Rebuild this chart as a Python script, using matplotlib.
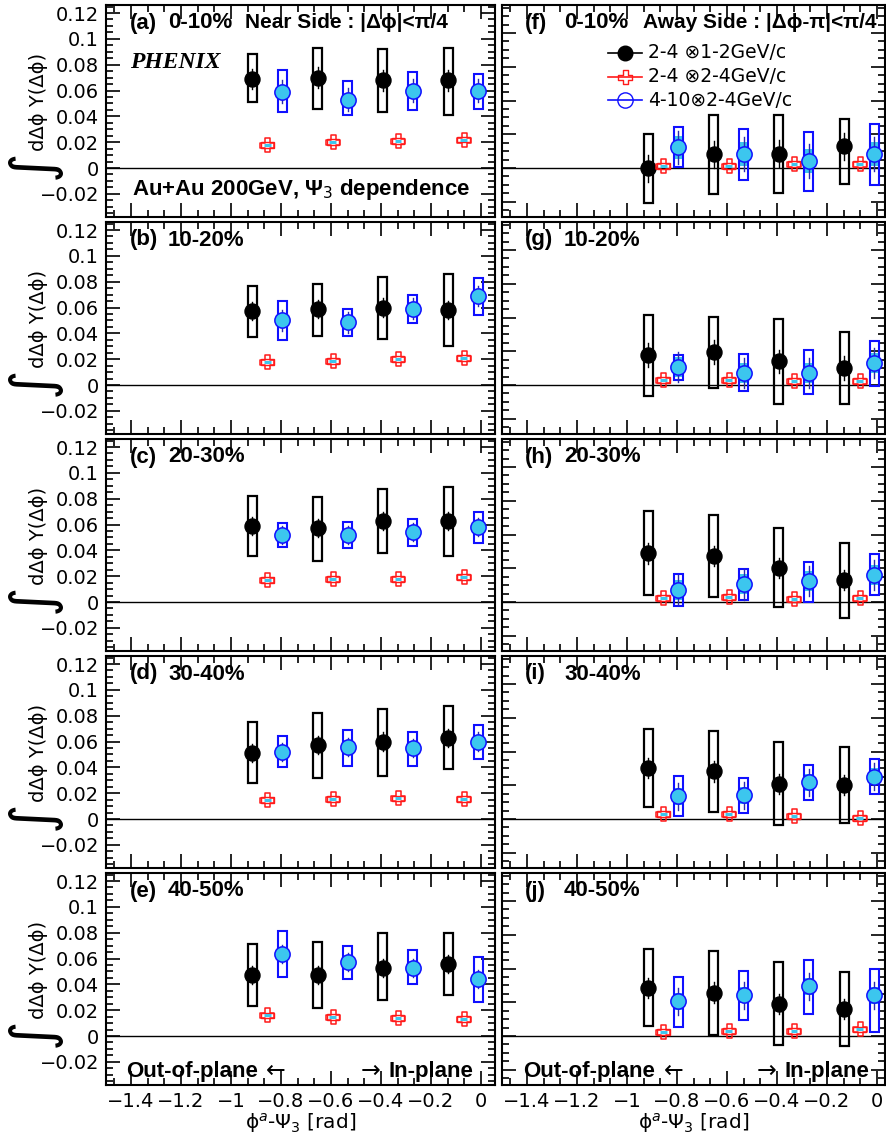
"""
Psi_3 dependence of near- and away-side jet-like yields (PHENIX, Au+Au 200 GeV).
Left column: near side, right column: away side; rows are centrality bins.
"""
import matplotlib
matplotlib.use("Agg")
import matplotlib.pyplot as plt
from matplotlib.patches import Rectangle
from matplotlib.path import Path
from matplotlib.lines import Line2D
from matplotlib.ticker import MultipleLocator, AutoMinorLocator, FuncFormatter

plt.rcParams["font.family"] = ["DejaVu Sans"]
plt.rcParams["mathtext.fontset"] = "dejavusans"

# ---------------------------------------------------------------- data
CENTRALITY = ["0-10%", "10-20%", "20-30%", "30-40%", "40-50%"]
LETTERS_NEAR = ["(a)", "(b)", "(c)", "(d)", "(e)"]
LETTERS_AWAY = ["(f)", "(g)", "(h)", "(i)", "(j)"]

# bin centres of phi^a - Psi_3 (black points); other series are shifted for clarity
PHI_BINS = [-0.916, -0.654, -0.393, -0.131]

# near side, 2-4 x 1-2 GeV/c
NEAR_LO_Y = [[0.069, 0.070, 0.068, 0.068],
             [0.057, 0.059, 0.060, 0.058],
             [0.059, 0.057, 0.063, 0.063],
             [0.051, 0.057, 0.060, 0.063],
             [0.047, 0.047, 0.053, 0.056]]
NEAR_LO_SYS_HI = [[0.088, 0.093, 0.092, 0.093],
                  [0.077, 0.078, 0.084, 0.086],
                  [0.082, 0.081, 0.0875, 0.089],
                  [0.075, 0.082, 0.085, 0.0875],
                  [0.0715, 0.073, 0.0795, 0.080]]
NEAR_LO_SYS_LO = [[0.051, 0.046, 0.043, 0.041],
                  [0.037, 0.038, 0.036, 0.030],
                  [0.036, 0.032, 0.038, 0.036],
                  [0.0276, 0.032, 0.0335, 0.0384],
                  [0.023, 0.022, 0.0276, 0.032]]
NEAR_LO_STAT = [0.008, 0.007, 0.007, 0.007, 0.007]

# near side, 2-4 x 2-4 GeV/c
NEAR_MID_Y = [[0.018, 0.020, 0.021, 0.022],
              [0.018, 0.0186, 0.020, 0.021],
              [0.017, 0.018, 0.018, 0.0196],
              [0.015, 0.0155, 0.016, 0.0155],
              [0.016, 0.015, 0.014, 0.013]]
NEAR_MID_SYS = [0.0022, 0.0022, 0.0022, 0.0022, 0.0022]

# near side, 4-10 x 2-4 GeV/c
NEAR_HI_Y = [[0.059, 0.053, 0.060, 0.060],
             [0.050, 0.0485, 0.059, 0.069],
             [0.052, 0.052, 0.054, 0.058],
             [0.052, 0.0557, 0.0547, 0.060],
             [0.0637, 0.057, 0.053, 0.044]]
NEAR_HI_SYS_HI = [[0.076, 0.067, 0.074, 0.073],
                  [0.065, 0.059, 0.070, 0.083],
                  [0.061, 0.062, 0.0645, 0.070],
                  [0.064, 0.069, 0.0676, 0.0728],
                  [0.081, 0.070, 0.0666, 0.061]]
NEAR_HI_SYS_LO = [[0.043, 0.041, 0.045, 0.046],
                  [0.035, 0.038, 0.048, 0.054],
                  [0.0426, 0.042, 0.043, 0.046],
                  [0.040, 0.041, 0.041, 0.0464],
                  [0.046, 0.044, 0.040, 0.026]]
NEAR_HI_STAT = [0.009, 0.008, 0.007, 0.007, 0.007]
NEAR_HI_FLOW = [0.004, 0.004, 0.004, 0.004, 0.004]

# away side, 2-4 x 1-2 GeV/c
AWAY_LO_Y = [[0.0, 0.0083, 0.0085, 0.013],
             [0.0178, 0.0197, 0.014, 0.010],
             [0.0288, 0.0274, 0.0203, 0.013],
             [0.0302, 0.0282, 0.0209, 0.0203],
             [0.0286, 0.0258, 0.0191, 0.0162]]
AWAY_LO_SYS_HI = [[0.0203, 0.0312, 0.0316, 0.029],
                  [0.0414, 0.0406, 0.0393, 0.0314],
                  [0.0538, 0.0517, 0.044, 0.0351],
                  [0.0533, 0.0521, 0.0456, 0.0428],
                  [0.0513, 0.0503, 0.044, 0.0379]]
AWAY_LO_SYS_LO = [[-0.0207, -0.0152, -0.0148, -0.0093],
                  [-0.0065, -0.0018, -0.0114, -0.0114],
                  [0.0041, 0.003, -0.003, -0.0093],
                  [0.0069, 0.0041, -0.0036, -0.0022],
                  [0.0057, 0.0008, -0.0055, -0.0061]]
AWAY_LO_STAT = [0.008, 0.007, 0.006, 0.006, 0.006]

# away side, 2-4 x 2-4 GeV/c
AWAY_MID_Y = [[0.001, 0.0012, 0.0024, 0.0022],
              [0.0032, 0.0028, 0.0024, 0.0024],
              [0.0024, 0.003, 0.002, 0.0024],
              [0.0032, 0.0028, 0.0016, 0.0008],
              [0.0022, 0.0028, 0.0032, 0.0039]]
AWAY_MID_SYS = [0.0017, 0.0017, 0.0017, 0.0017, 0.0017]

# away side, 4-10 x 2-4 GeV/c
AWAY_HI_Y = [[0.0122, 0.0083, 0.0043, 0.0083],
             [0.0107, 0.0073, 0.0073, 0.013],
             [0.0071, 0.0105, 0.0124, 0.0162],
             [0.0136, 0.014, 0.0217, 0.025],
             [0.0205, 0.0243, 0.0294, 0.0241]]
AWAY_HI_SYS_HI = [[0.0241, 0.0229, 0.0213, 0.026],
                  [0.0178, 0.0183, 0.0207, 0.026],
                  [0.0168, 0.0197, 0.0239, 0.0282],
                  [0.0254, 0.0241, 0.0323, 0.0355],
                  [0.0349, 0.0387, 0.045, 0.0398]]
AWAY_HI_SYS_LO = [[0.0004, -0.0069, -0.0134, -0.0099],
                  [0.0032, -0.0034, -0.0055, -0.0006],
                  [-0.0022, 0.001, -0.0002, 0.0041],
                  [0.0018, 0.0037, 0.0112, 0.0146],
                  [0.0055, 0.0093, 0.0132, 0.0024]]
AWAY_HI_STAT = [0.01, 0.009, 0.009, 0.008, 0.008]
AWAY_HI_FLOW = [0.007, 0.006, 0.006, 0.005, 0.005]

# ---------------------------------------------------------------- style
W, H = 886, 1133
COL_X = [(106, 495), (502, 885)]
ROW_TOP0, ROW_PITCH, ROW_H = 5, 217, 212
XLIMS = [(-1.5, 0.056), (-1.5, 0.032)]
YLIMS = [(-0.0379, 0.1262), (-0.029, 0.0966)]

SHIFT_MID, SHIFT_HI = 0.061, 0.12
BOX_W = 0.036
RED_W = 0.05
CYAN = "#3cc6ee"
BLUE = "#1010ff"
RED = "#ff1a1a"
BOLD = dict(family="Liberation Sans", fontweight="bold")

# open cross marker (ROOT style 28)
a = 0.36
CROSS = Path([(-a, 1), (a, 1), (a, a), (1, a), (1, -a), (a, -a), (a, -1),
              (-a, -1), (-a, -a), (-1, -a), (-1, a), (-a, a), (-a, 1)],
             [Path.MOVETO] + [Path.LINETO] * 11 + [Path.CLOSEPOLY])


def fx(px):
    return px / W


def fy(py):
    return 1 - py / H


def tick_fmt(v, _):
    s = f"{v:g}"
    if abs(v) < 1e-9:
        s = "0"
    return s.replace("-", "\u2212")


def draw_panel(ax, lo_y, lo_hi, lo_lo, lo_stat, mid_y, mid_sys,
               hi_y, hi_hi, hi_lo, hi_stat, hi_flow):
    ax.axhline(0, color="black", lw=1.0, zorder=1)
    for k, x0 in enumerate(PHI_BINS):
        # 2-4 x 1-2: black boxes + filled circles
        ax.add_patch(Rectangle((x0 - BOX_W / 2, lo_lo[k]), BOX_W, lo_hi[k] - lo_lo[k],
                               fc="none", ec="black", lw=1.6, zorder=2))
        ax.plot([x0, x0], [lo_y[k] - lo_stat, lo_y[k] + lo_stat], color="black",
                lw=1.0, zorder=3)
        ax.plot(x0, lo_y[k], "o", ms=10.8, color="black", zorder=4)

        # 2-4 x 2-4: red open crosses
        xm = x0 + SHIFT_MID
        ax.add_patch(Rectangle((xm - RED_W / 2, mid_y[k] - mid_sys), RED_W, 2 * mid_sys,
                               fc="none", ec=RED, lw=1.0, zorder=2))
        ax.plot([xm - BOX_W / 2.6, xm + BOX_W / 2.6], [mid_y[k], mid_y[k]], color=CYAN,
                lw=2.2, zorder=3, solid_capstyle="butt")
        ax.plot(xm, mid_y[k], marker=CROSS, ms=10, mfc="none", mec=RED, mew=1.1,
                ls="none", zorder=4)

        # 4-10 x 2-4: cyan flow band, blue boxes, open circles
        xh = x0 + SHIFT_HI
        ax.add_patch(Rectangle((xh - BOX_W / 2, hi_y[k] - hi_flow), BOX_W, 2 * hi_flow,
                               fc=CYAN, ec="none", zorder=2))
        ax.add_patch(Rectangle((xh - BOX_W / 2, hi_lo[k]), BOX_W, hi_hi[k] - hi_lo[k],
                               fc="none", ec=BLUE, lw=1.5, zorder=2.5))
        ax.plot([xh, xh], [hi_y[k] - hi_stat, hi_y[k] + hi_stat], color="#2a2ab0",
                lw=1.0, zorder=3)
        ax.plot(xh, hi_y[k], "o", ms=11, mfc=CYAN, mec=BLUE, mew=1.1, zorder=4)


fig = plt.figure(figsize=(W / 100, H / 100), dpi=100)

for col in range(2):
    for row in range(5):
        x0p, x1p = COL_X[col]
        top = ROW_TOP0 + ROW_PITCH * row
        bot = top + ROW_H
        ax = fig.add_axes([fx(x0p), fy(bot), (x1p - x0p) / W, ROW_H / H])
        ax.set_xlim(*XLIMS[col])
        ax.set_ylim(*YLIMS[col])
        for s in ax.spines.values():
            s.set_linewidth(1.5)
        ax.xaxis.set_major_locator(MultipleLocator(0.2))
        ax.xaxis.set_minor_locator(AutoMinorLocator(3))
        ax.yaxis.set_major_locator(MultipleLocator(0.02))
        ax.yaxis.set_minor_locator(AutoMinorLocator(4))
        ax.xaxis.set_major_formatter(FuncFormatter(tick_fmt))
        ax.yaxis.set_major_formatter(FuncFormatter(tick_fmt))
        ax.tick_params(which="both", direction="in", top=True, right=True,
                       width=1.2, labelsize=14)
        ax.tick_params(which="major", length=10)
        ax.tick_params(which="minor", length=5)
        ax.tick_params(axis="y", pad=5)
        ax.tick_params(axis="x", pad=5)
        ax.tick_params(labelbottom=(row == 4), labelleft=(col == 0))

        if col == 0:
            draw_panel(ax, NEAR_LO_Y[row], NEAR_LO_SYS_HI[row], NEAR_LO_SYS_LO[row],
                       NEAR_LO_STAT[row], NEAR_MID_Y[row], NEAR_MID_SYS[row],
                       NEAR_HI_Y[row], NEAR_HI_SYS_HI[row], NEAR_HI_SYS_LO[row],
                       NEAR_HI_STAT[row], NEAR_HI_FLOW[row])
        else:
            draw_panel(ax, AWAY_LO_Y[row], AWAY_LO_SYS_HI[row], AWAY_LO_SYS_LO[row],
                       AWAY_LO_STAT[row], AWAY_MID_Y[row], AWAY_MID_SYS[row],
                       AWAY_HI_Y[row], AWAY_HI_SYS_HI[row], AWAY_HI_SYS_LO[row],
                       AWAY_HI_STAT[row], AWAY_HI_FLOW[row])

        # panel labels
        ly = top + 18
        if col == 0:
            fig.text(fx(130), fy(ly), LETTERS_NEAR[row], fontsize=16, va="center", **BOLD)
            fig.text(fx(168), fy(ly), CENTRALITY[row], fontsize=16, va="center", **BOLD)
            # y label
            fig.text(fx(38), fy(top + 97), "d\u0394\u03d5 Y(\u0394\u03d5)", fontsize=14,
                     rotation=90, ha="center", va="center")
            fig.text(fx(36), fy(top + 164), r"$\int$", fontsize=29, rotation=90,
                     ha="center", va="center")
        else:
            fig.text(fx(525), fy(ly), LETTERS_AWAY[row], fontsize=16, va="center", **BOLD)
            fig.text(fx(564), fy(ly), CENTRALITY[row], fontsize=16, va="center", **BOLD)

        if row == 4:
            ax.set_xlabel("\u03d5$^{a}$-\u03a8$_{3}$ [rad]", fontsize=14.5, labelpad=0)

# extra annotations in the top and bottom rows
fig.text(fx(245), fy(22), "Near Side : |\u0394\u03d5|<\u03c0/4", fontsize=15,
         va="center", **BOLD)
fig.text(fx(643), fy(22), "Away Side : |\u0394\u03d5-\u03c0|<\u03c0/4", fontsize=15,
         va="center", **BOLD)
fig.text(fx(130), fy(63), "PHENIX", fontsize=17, family="Liberation Serif",
         fontweight="bold", style="italic", va="center")
fig.text(fx(132), fy(189), "Au+Au 200GeV, \u03a8$_{3}$ dependence", fontsize=16,
         va="center", **BOLD)
for xl, xa_l, xa_r, xr in [(126, 266, 361, 388), (523, 664, 757, 785)]:
    fig.text(fx(xl), fy(1071), "Out-of-plane", fontsize=16, va="center", **BOLD)
    fig.text(fx(xa_l), fy(1071), "\u2190", fontsize=17, va="center")
    fig.text(fx(xa_r), fy(1071), "\u2192", fontsize=17, va="center")
    fig.text(fx(xr), fy(1071), "In-plane", fontsize=16, va="center", **BOLD)

# legend in panel (f)
LEGEND = [("2-4 \u22971-2GeV/c", dict(marker="o", ms=10.5, color="black")),
          ("2-4 \u22972-4GeV/c", dict(marker=CROSS, ms=10, mfc="none", mec=RED, color=RED)),
          ("4-10\u22972-4GeV/c", dict(marker="o", ms=11, mfc="none", mec=BLUE, color=BLUE))]
for i, (label, style) in enumerate(LEGEND):
    yy = fy(53 + 23.5 * i)
    fig.add_artist(Line2D([fx(608), fx(642)], [yy, yy], lw=1.2,
                          color=style["color"], transform=fig.transFigure))
    st = {k: v for k, v in style.items() if k != "color"}
    fig.add_artist(Line2D([fx(625)], [yy], transform=fig.transFigure,
                          color=style["color"], **st))
    fig.text(fx(648), yy, label, fontsize=13.5, va="center")

fig.savefig("out.png", dpi=100, facecolor="white")
